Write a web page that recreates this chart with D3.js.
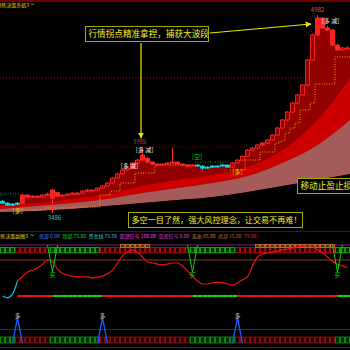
<!DOCTYPE html>
<html>
<head>
<meta charset="utf-8">
<script src="https://cdn.jsdelivr.net/npm/d3@7"></script>
<style>
  html, body { margin: 0; padding: 0; background: #000; overflow: hidden; }
  svg { display: block; font-family: "Noto Sans CJK SC", "Noto Sans", sans-serif; }
</style>
</head>
<body>
<div id="chart"></div>
<script>
const width = 350, height = 350;

// daily candles, index 0..69
const opens = [3575,3561,3546,3554,3561,3622,3607,3614,3607,3622,3599,3640,3614,3622,3629,3637,3637,3652,3660,3660,
  3675,3690,3713,3750,3781,3811,3826,3864,3886,3900,3871,3856,3849,3856,3864,3871,3856,3849,3841,3849,
  3841,3826,3833,3841,3841,3849,3833,3864,3886,3915,3962,3977,4000,4015,4038,4075,4128,4189,4249,4317,
  4378,4453,4642,4831,4959,4884,4869,4755,4718,4733];
const closes = [3561,3546,3554,3561,3622,3607,3614,3607,3622,3629,3660,3614,3622,3629,3637,3637,3652,3660,3660,3675,
  3690,3713,3750,3781,3811,3826,3864,3886,3924,3871,3856,3849,3856,3864,3871,3856,3849,3841,3849,3841,
  3826,3833,3841,3841,3849,3833,3864,3886,3915,3962,3977,4000,4015,4038,4075,4128,4189,4249,4317,4378,
  4453,4642,4831,4959,4884,4869,4755,4718,4733,4733];
const highs = [3585,3568,3562,3570,3630,3625,3622,3618,3628,3640,3668,3645,3628,3635,3642,3645,3660,3668,3665,3680,
  3698,3720,3758,3790,3820,3835,3872,3895,3985,3905,3875,3860,3862,3870,3977,3875,3860,3852,3855,3852,
  3846,3840,3848,3848,3855,3852,3870,3892,3922,3970,3985,4008,4022,4045,4082,4136,4196,4256,4325,4386,
  4460,4650,4840,4982,4962,4900,4875,4765,4740,4745];
const lows = [3555,3540,3540,3548,3555,3600,3600,3600,3600,3615,3486,3605,3608,3615,3622,3630,3630,3645,3652,3655,
  3668,3685,3705,3745,3775,3805,3820,3858,3880,3865,3848,3842,3845,3850,3858,3850,3842,3835,3838,3835,
  3811,3822,3830,3835,3838,3826,3826,3858,3880,3910,3955,3970,3992,4008,4030,4068,4120,4180,4240,4310,
  4370,4445,4635,4825,4875,4860,4748,4710,4712,4725];

// trailing stop (step line)
const stopLine = [3630,3630,3630,3630,3509,3509,3509,3509,3509,3524,3524,3524,3524,3524,3531,3531,3531,3531,3531,3531,
  3622,3622,3652,3652,3713,3713,3713,3788,3788,3788,3788,3849,3849,3849,3849,3849,3849,3849,3849,3871,
  3871,3871,3871,3871,3871,3871,3811,3811,3811,3886,3886,3886,3947,3947,3947,4015,4030,4090,4128,4166,
  4264,4264,4317,4461,4461,4461,4461,4665,4665,4665];

// ribbon samples (candle index -> price)
const bandIdx = [-0.5, 7, 14, 21, 28, 35, 42, 49, 56, 63, 69.5];
const bandA = [3539,3561,3592,3629,3690,3735,3773,3833,3962,4189,4506];
const bandB = [3516,3539,3561,3592,3637,3675,3713,3765,3864,4000,4189];
const bandC = [3493,3501,3516,3539,3561,3584,3607,3645,3690,3735,3781];

const levelLines = [4506, 3985];
const bearCandles = [0,1,2,3,39,40,41,42,43,44,45];
const hotCandles = [4,10,26,28,31,35,52,63,66];

// sub chart 1
const oscillator = [15,12,18,40,48,55,58,62,68,75,72,60,53,50,48,47,47,47,45,47,
  48,52,58,70,82,88,92,88,80,72,70,68,67,68,70,70,65,57,48,40,
  35,35,37,38,37,35,33,37,42,47,65,80,85,87,88,90,92,93,95,97,
  98,100,97,92,87,80,73,68,65,62];
const greenZones = [[0,2],[10,19],[38,46],[67,69]];
const topSignals = [[24,29],[51,66]];
const buySignals = [10,38,67];
const subLegend = [
  ["底部", "0.00", "#3b7cff"],
  ["顶部", "75.00", "#22d022"],
  ["资金线", "79.56", "#2fc4c4"],
  ["见顶信号", "100.00", "#ff3cff"],
  ["见底信号", "0.00", "#d040d0"],
  ["卖出", "85.00", "#c8803a"],
  ["底部", "15.00", "#b8652e"],
  ["", "79.56", "#ff2a2a"]
];

// sub chart 2
const spikeSignals = [3,20,47];

const svg = d3.select("#chart").append("svg")
  .attr("width", width).attr("height", height);

svg.append("rect").attr("width", width).attr("height", height).attr("fill", "#000");

const defs = svg.append("defs");
defs.append("marker")
  .attr("id", "arrow").attr("viewBox", "0 0 10 10")
  .attr("refX", 9).attr("refY", 5)
  .attr("markerWidth", 5).attr("markerHeight", 5)
  .attr("orient", "auto")
  .append("path").attr("d", "M0,0L10,5L0,10Z").attr("fill", "#e8e800");

const idx = d3.range(closes.length);
const inRanges = (i, rs) => rs.some(([a, b]) => i >= a && i <= b);

const x = d3.scaleLinear().domain([-0.5, 69.5]).range([0, width]);
const cw = 4;
const y = d3.scaleLinear().domain([3358, 5095]).range([230, 0]);
const y1 = d3.scaleLinear().domain([0, 100]).range([305, 245]);
const y2 = d3.scaleLinear().domain([0, 100]).range([343, 318]);

// ---------- main chart ----------
svg.append("rect").attr("x", 0).attr("y", 0).attr("width", width).attr("height", 2).attr("fill", "#6e0000");

svg.append("g").selectAll("line").data(levelLines).join("line")
  .attr("x1", 0).attr("x2", width)
  .attr("y1", d => y(d)).attr("y2", d => y(d))
  .attr("stroke", (d, i) => i == 0 ? "#c00000" : "#8a0000")
  .attr("stroke-dasharray", "1,2");

// dark fill under price
const fillPts = [[0, y(Math.max(opens[0], closes[0]))]]
  .concat(idx.map(i => [x(i), y(Math.max(opens[i], closes[i]))]))
  .concat([[width, y(Math.max(opens[69], closes[69]))]]);
svg.append("path")
  .attr("d", d3.area().x(d => d[0]).y0(230).y1(d => d[1]).curve(d3.curveStep)(fillPts))
  .attr("fill", "#930000");

const bandPts = bandIdx.map((b, k) => ({ x: x(b), a: y(bandA[k]), b: y(bandB[k]), c: y(bandC[k]) }));
svg.append("path")
  .attr("d", d3.area().x(d => d.x).y0(d => d.b).y1(d => d.a).curve(d3.curveMonotoneX)(bandPts))
  .attr("fill", "#cc0000");
svg.append("path")
  .attr("d", d3.area().x(d => d.x).y0(d => d.c).y1(d => d.b).curve(d3.curveMonotoneX)(bandPts))
  .attr("fill", "#a65b5b");
svg.append("path")
  .attr("d", d3.area().x(d => d.x).y0(231).y1(d => d.c).curve(d3.curveMonotoneX)(bandPts))
  .attr("fill", "#000");

// stop line, split into bull / bear runs
let runs = [];
idx.forEach(i => {
  const bear = bearCandles.includes(i);
  if (!runs.length || runs[runs.length - 1].bear != bear) runs.push({ bear, ids: [] });
  runs[runs.length - 1].ids.push(i);
});
runs.forEach(r => {
  const pts = r.ids.map(i => [x(i - 0.5), y(stopLine[i])]);
  const last = r.ids[r.ids.length - 1];
  pts.push([x(last + 0.5), y(stopLine[last])]);
  svg.append("path")
    .attr("d", d3.line().curve(d3.curveStepAfter)(pts))
    .attr("fill", "none")
    .attr("stroke", r.bear ? "#00b000" : "#ff9a00")
    .attr("stroke-width", 1)
    .attr("stroke-dasharray", "1,1.5");
});

// candles
const candleColor = i => bearCandles.includes(i) ? "#00e0e8" : "#ff2a2a";
const candle = svg.append("g").selectAll("g").data(idx).join("g");
candle.append("line")
  .attr("x1", i => x(i)).attr("x2", i => x(i))
  .attr("y1", i => y(highs[i])).attr("y2", i => y(lows[i]))
  .attr("stroke", candleColor).attr("stroke-width", 1);
candle.append("rect")
  .attr("x", i => x(i) - cw / 2).attr("width", cw)
  .attr("y", i => y(Math.max(opens[i], closes[i])))
  .attr("height", i => Math.max(1, Math.abs(y(opens[i]) - y(closes[i]))))
  .attr("fill", i => {
    if (bearCandles.includes(i)) return "#00e0e8";
    if (hotCandles.includes(i)) return "#ff1e1e";
    return closes[i] >= opens[i] ? "#930000" : "#ff2a2a";
  })
  .attr("stroke", candleColor).attr("stroke-width", 0.8);

// main annotations
const note = (tx, ty, text, color, size, anchor) => svg.append("text")
  .attr("x", tx).attr("y", ty).attr("fill", color)
  .attr("font-size", size).attr("text-anchor", anchor || "middle").text(text);

note(x(63), y(highs[63]) - 3, "4982", "#e04a4a", 6);
note(x(65) + 3, y(highs[64]) + 5.5, "[多 减]", "#e8e8e8", 6);
note(x(28) - 3, y(highs[28]) - 3, "3985", "#c83030", 6);
note(x(28) + 2, y(highs[28]) + 5, "[多 减]", "#e8e8e8", 6);
note(x(25) + 2, y(highs[25]) + 1, "[多 减]", "#e8e8e8", 6);
note(x(3), y(lows[3]) + 8, "[多]", "#e8d000", 6);
note(x(10) + 2, y(lows[10]) + 7, "3486", "#40c0c0", 6);
note(x(39) - 0.5, y(highs[39]) - 5.5, "[空]", "#10d010", 6);
note(x(46) + 5, y(lows[46]) + 6, "[多]", "#e8c000", 6);

// header
note(29, 6.5, "趋势决策系统3", "#e8d800", 5, "end");
svg.append("path").attr("d", "M31,3.5l1.5,1.5l1.5,-1.5").attr("fill", "none").attr("stroke", "#e8d800").attr("stroke-width", 0.7);

// text boxes
const textBox = (bx, by, bw, bh, text, size) => {
  svg.append("rect").attr("x", bx).attr("y", by).attr("width", bw).attr("height", bh)
    .attr("fill", "#000").attr("stroke", "#a8a800").attr("stroke-width", 1);
  svg.append("text").attr("x", bx + 3).attr("y", by + bh / 2 + size * 0.36)
    .attr("fill", "#f4f020").attr("font-size", size).text(text);
};
textBox(85.5, 26.5, 123, 15, "行情拐点精准拿捏，捕获大波段", 8.6);
textBox(128.5, 212.5, 174, 15, "多空一目了然，强大风控理念，让交易不再难！", 8.1);
textBox(297.5, 178.5, 60, 15, "移动止盈止损", 8.6);

svg.append("line").attr("x1", 210).attr("y1", 33).attr("x2", 311).attr("y2", 24)
  .attr("stroke", "#e8e800").attr("stroke-width", 1.2).attr("marker-end", "url(#arrow)");
svg.append("line").attr("x1", 141).attr("y1", 43).attr("x2", 141).attr("y2", 138)
  .attr("stroke", "#e8e800").attr("stroke-width", 1.2).attr("marker-end", "url(#arrow)");

// ---------- sub chart 1 ----------
svg.append("line").attr("x1", 0).attr("x2", width).attr("y1", 231.5).attr("y2", 231.5).attr("stroke", "#6e0000");

note(28, 237.5, "趋势决策副图3", "#e8d800", 5, "end");
svg.append("path").attr("d", "M31,234.5l1.5,1.5l1.5,-1.5").attr("fill", "none").attr("stroke", "#e8d800").attr("stroke-width", 0.7);
let lx = 39;
subLegend.forEach(([name, val, color]) => {
  const t = svg.append("text").attr("x", lx).attr("y", 237.5).attr("fill", color)
    .attr("font-size", 5).text(name ? name + " " + val : val);
  lx += t.node().getComputedTextLength() + 2.5;
});

svg.append("line").attr("x1", 0).attr("x2", width).attr("y1", y1(100)).attr("y2", y1(100))
  .attr("stroke", "#6a2a6a");

svg.append("g").selectAll("rect").data(idx).join("rect")
  .attr("x", i => x(i) - cw / 2).attr("width", cw)
  .attr("y", y1(96)).attr("height", y1(87) - y1(96))
  .attr("fill", i => inRanges(i, greenZones) ? "#002a00" : "#2a0000")
  .attr("stroke", i => inRanges(i, greenZones) ? "#12c012" : "#c01010")
  .attr("stroke-width", 0.8);

svg.append("g").selectAll("rect").data(idx.filter(i => inRanges(i, topSignals))).join("rect")
  .attr("x", i => x(i) - cw / 2).attr("width", cw)
  .attr("y", y1(101)).attr("height", y1(96) - y1(101))
  .attr("fill", "#5a2a10").attr("stroke", "#d08a48").attr("stroke-width", 0.7);

svg.append("line").attr("x1", 0).attr("x2", width).attr("y1", y1(75)).attr("y2", y1(75))
  .attr("stroke", "#8a3a1a").attr("stroke-width", 1);

// bottom state bar
svg.append("g").selectAll("line").data(idx.filter(i => i >= 3)).join("line")
  .attr("x1", i => x(i)).attr("x2", i => x(i + 1))
  .attr("y1", y1(15)).attr("y2", y1(15))
  .attr("stroke", i => inRanges(i, greenZones) ? "#10e010" : "#ff1010")
  .attr("stroke-width", 2);

const oscLine = d3.line().x(i => x(i)).y(i => y1(oscillator[i])).curve(d3.curveMonotoneX);
svg.append("path").attr("d", oscLine(idx.filter(i => i <= 3)))
  .attr("fill", "none").attr("stroke", "#10b8d0").attr("stroke-width", 1.2);
svg.append("path").attr("d", oscLine(idx.filter(i => i >= 3)))
  .attr("fill", "none").attr("stroke", "#ee1010").attr("stroke-width", 1.2);

buySignals.forEach(i => {
  svg.append("path")
    .attr("d", d3.line()([[x(i - 1), y1(100)], [x(i), y1(55)], [x(i + 1), y1(100)]]))
    .attr("fill", "none").attr("stroke", "#10d010").attr("stroke-width", 1);
  note(x(i), y1(55) + 4.5, "买", "#10d010", 6);
});

// ---------- sub chart 2 ----------
svg.append("line").attr("x1", 0).attr("x2", width).attr("y1", 329.5).attr("y2", 329.5).attr("stroke", "#1c3c3c");
svg.append("line").attr("x1", 0).attr("x2", width).attr("y1", 347.5).attr("y2", 347.5).attr("stroke", "#1c3c3c");

svg.append("g").selectAll("rect").data(idx).join("rect")
  .attr("x", i => x(i) - cw / 2).attr("width", cw)
  .attr("y", y2(24)).attr("height", y2(0) - y2(24))
  .attr("fill", i => inRanges(i, greenZones) ? "#002400" : "#240000")
  .attr("stroke", i => inRanges(i, greenZones) ? "#10a010" : "#a01010")
  .attr("stroke-width", 0.8);

spikeSignals.forEach(i => {
  svg.append("path")
    .attr("d", d3.line()([[x(i - 1), y2(0)], [x(i), y2(100)], [x(i + 1), y2(0)]]))
    .attr("fill", "none").attr("stroke", "#1a5cff").attr("stroke-width", 1.3);
  note(x(i), y2(100), "多", "#c0c0c0", 6);
});
</script>
</body>
</html>
